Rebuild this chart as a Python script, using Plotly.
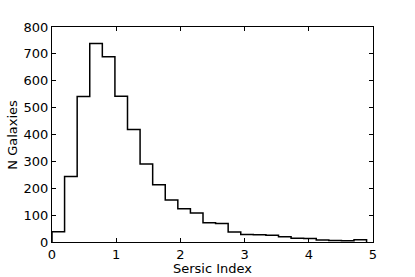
import numpy as np
import plotly.graph_objects as go

bin_start = 0.0
bin_end = 4.9
counts = [38, 244, 541, 739, 689, 542, 419, 290, 213, 156, 124, 108, 72, 69, 37,
          28, 27, 25, 20, 14, 13, 7, 6, 5, 8]
x_ticks = [0, 1, 2, 3, 4, 5]
y_ticks = [0, 100, 200, 300, 400, 500, 600, 700, 800]

edges = np.linspace(bin_start, bin_end, len(counts) + 1)
xs = [edges[0]]
ys = [0]
for i, c in enumerate(counts):
    xs += [edges[i], edges[i + 1]]
    ys += [c, c]
xs.append(edges[-1])
ys.append(0)

fig = go.Figure(go.Scatter(x=xs, y=ys, mode="lines",
                           line=dict(color="black", width=1.5),
                           hoverinfo="skip", showlegend=False))

axis_common = dict(showline=True, linecolor="black", linewidth=1, mirror="allticks",
                   ticks="inside", ticklen=4, tickcolor="black", tickwidth=1,
                   showgrid=False, zeroline=False, automargin=False,
                   tickfont=dict(family="DejaVu Sans", size=13, color="black"))

fig.update_layout(
    width=415, height=277,
    margin=dict(l=52, r=42, t=27, b=35),
    paper_bgcolor="white", plot_bgcolor="white",
    font=dict(family="DejaVu Sans", size=13, color="black"),
    xaxis=dict(range=[0, 5], tickvals=x_ticks, **axis_common),
    yaxis=dict(range=[0, 800], tickvals=y_ticks, **axis_common),
    annotations=[
        dict(text="Sersic Index", xref="paper", yref="paper", x=0.5, y=-0.125,
             xanchor="center", yanchor="middle", showarrow=False,
             font=dict(family="DejaVu Sans", size=13, color="black")),
        dict(text="N Galaxies", xref="paper", yref="paper", x=-0.124, y=0.5,
             xanchor="center", yanchor="middle", textangle=-90, showarrow=False,
             font=dict(family="DejaVu Sans", size=13, color="black")),
    ],
)

fig.write_html("out.html", config={"displayModeBar": False, "staticPlot": True},
               post_script="document.body.style.margin='0';document.body.style.padding='0';")
